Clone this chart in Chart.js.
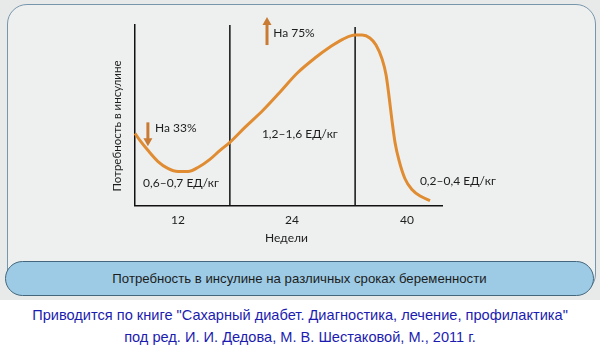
<!DOCTYPE html>
<html lang="ru">
<head>
<meta charset="utf-8">
<script src="https://cdn.jsdelivr.net/npm/chart.js@4/dist/chart.umd.min.js"></script>
<style>
  html, body { margin: 0; padding: 0; background: #fff; }
  #page { position: relative; width: 600px; height: 348px; overflow: hidden; background: #fff; }
  #scan { position: absolute; left: 0; top: 0; width: 600px; height: 300px; background: #e8eaea; }
  #frame {
    position: absolute; left: 7px; top: 4px; width: 587px; height: 288px;
    border: 1.5px solid #7896ab; border-radius: 20px; background: #eef0ef;
  }
  #wrap { position: absolute; left: 0; top: 0; width: 600px; height: 252px; }
  #caption {
    position: absolute; left: 5px; top: 261px; width: 587px; height: 33px;
    border: 1.5px solid #45677d; border-radius: 18px; background: #9dcbe5;
    font: 13.2px "Liberation Sans", Arial, sans-serif; color: #1c1c1c;
    display: flex; align-items: center; justify-content: center;
  }
  #source {
    position: absolute; left: 0; top: 304px; width: 600px; text-align: center;
    font: 14.6px "Liberation Sans", Arial, sans-serif;
    color: #1c1cb0; line-height: 22px;
  }
</style>
</head>
<body>
<div id="page">
  <div id="scan"></div>
  <div id="frame"></div>
  <div id="wrap"><canvas id="chart" width="600" height="252"></canvas></div>
  <div id="caption">Потребность в инсулине на различных сроках беременности</div>
  <div id="source">Приводится по книге "Сахарный диабет. Диагностика, лечение, профилактика"<br>под ред. И. И. Дедова, М. В. Шестаковой, М., 2011 г.</div>
</div>
<script>
"use strict";

// x: position along the weeks axis (0..100), y: relative insulin need (0..100)
const curveX = [0, 1.6, 4.2, 7.5, 10.7, 14.0, 17.3, 20.5, 24.4, 27.7, 30.9, 35.8, 41.7, 47.2,
  52.8, 58.6, 63.5, 67.8, 71.7, 74.0, 76.5, 78.5, 80.5, 81.8, 82.7, 83.7, 84.7, 86.0, 87.9,
  90.2, 93.2, 96.1];
const curveY = [40.0, 36.1, 30.6, 24.4, 20.6, 18.9, 18.9, 21.1, 25.6, 30.6, 35.0, 43.3, 52.8,
  62.8, 73.3, 81.7, 87.8, 92.2, 94.4, 94.4, 92.8, 88.9, 81.1, 72.2, 61.1, 47.2, 35.0, 25.0,
  15.0, 8.9, 5.0, 2.8];

const weekTicks = [14.0, 51.1, 88.6];
const weekLabels = ["12", "24", "40"];
const dividers = [30.9, 71.7];
const xTitle = "Недели";
const yTitle = "Потребность в инсулине";

// notes: [x, y, text, align]
const notes = [
  [6.5, 42.8, "На 33%", "left"],
  [45.0, 95.6, "На 75%", "left"],
  [15.0, 12.2, "0,6–0,7 ЕД/кг", "center"],
  [53.7, 39.4, "1,2–1,6 ЕД/кг", "center"],
  [92.8, 13.3, "0,2–0,4 ЕД/кг", "left"],
];
// arrows: [x, yFrom, yTo] (head at yTo)
const arrows = [
  [4.2, 46.1, 32.8],
  [43.0, 88.9, 104.4],
];

const ORANGE = "#e08c32";
const ARROW = "#c97b34";
const INK = "#1d1d1d";
const FONT = "Lato, 'Liberation Sans', sans-serif";

const notesPlugin = {
  id: "notes",
  afterDatasetsDraw(chart) {
    const { ctx, chartArea, scales: { x, y } } = chart;
    ctx.save();
    // arrows
    ctx.strokeStyle = ARROW;
    ctx.fillStyle = ARROW;
    ctx.lineWidth = 3;
    arrows.forEach(([ax, y0, y1]) => {
      const px = x.getPixelForValue(ax);
      const p0 = y.getPixelForValue(y0);
      const p1 = y.getPixelForValue(y1);
      const dir = p1 > p0 ? 1 : -1;
      ctx.beginPath();
      ctx.moveTo(px, p0);
      ctx.lineTo(px, p1 - dir * 7);
      ctx.stroke();
      ctx.beginPath();
      ctx.moveTo(px - 4.5, p1 - dir * 8);
      ctx.lineTo(px + 4.5, p1 - dir * 8);
      ctx.lineTo(px, p1);
      ctx.closePath();
      ctx.fill();
    });
    // labels
    ctx.fillStyle = INK;
    ctx.font = "12px " + FONT;
    ctx.textBaseline = "middle";
    notes.forEach(([nx, ny, text, align]) => {
      ctx.textAlign = align;
      ctx.fillText(text, x.getPixelForValue(nx), y.getPixelForValue(ny));
    });
    // axis titles
    ctx.textAlign = "center";
    ctx.fillText(xTitle, (chartArea.left + chartArea.right) / 2 - 2, chartArea.bottom + 33);
    ctx.translate(chartArea.left - 18, chartArea.top + 101);
    ctx.rotate(-Math.PI / 2);
    ctx.font = "11.5px " + FONT;
    ctx.fillText(yTitle, 0, 0);
    ctx.restore();
  },
};

const datasets = [{
  data: curveX.map((v, i) => ({ x: v, y: curveY[i] })),
  borderColor: ORANGE,
  borderWidth: 3,
  pointRadius: 0,
  cubicInterpolationMode: "monotone",
}];
dividers.forEach(d => {
  datasets.push({
    data: [{ x: d, y: 0 }, { x: d, y: d > 50 ? 98.9 : 100 }],
    borderColor: "#111",
    borderWidth: 1.5,
    pointRadius: 0,
  });
});

new Chart(document.getElementById("chart"), {
  type: "line",
  data: { datasets },
  plugins: [notesPlugin],
  options: {
    responsive: false,
    animation: false,
    clip: false,
    layout: { padding: { left: 135, right: 158, top: 25, bottom: 18 } },
    plugins: { legend: { display: false }, tooltip: { enabled: false } },
    scales: {
      x: {
        type: "linear", min: 0, max: 100,
        grid: { display: false, drawTicks: false },
        border: { color: "#111", width: 1.5 },
        afterBuildTicks: s => { s.ticks = weekTicks.map(v => ({ value: v })); },
        ticks: {
          padding: 7, color: INK, font: { family: FONT, size: 12 },
          callback: (v, i) => weekLabels[i],
        },
      },
      y: {
        type: "linear", min: 0, max: 100,
        grid: { display: false, drawTicks: false },
        border: { color: "#111", width: 1.5 },
        ticks: { display: false },
      },
    },
  },
});
</script>
</body>
</html>
